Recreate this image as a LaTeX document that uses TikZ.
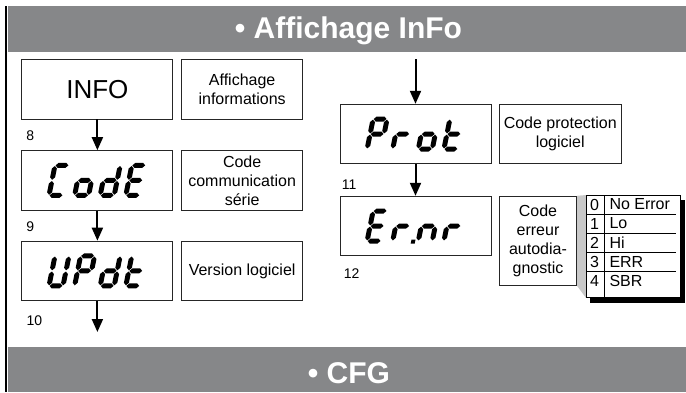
\documentclass[tikz,border=0pt]{standalone}
\usepackage{fontspec}
\setmainfont{Liberation Sans}
\definecolor{bargray}{RGB}{134,135,137}
\definecolor{wedgegray}{RGB}{201,201,201}
\usetikzlibrary{positioning,calc,arrows.meta,backgrounds}

% segments of the lcd digits (horizontal / vertical)
\newcommand\hseg[3]{\fill (#1+0.6,#3) -- (#1+3.1,#3+2.5) -- (#2-3.1,#3+2.5) -- (#2-0.6,#3) -- (#2-3.1,#3-2.5) -- (#1+3.1,#3-2.5) -- cycle;}
\newcommand\vseg[3]{\fill (#1,#2+0.6) -- (#1+2.5,#2+3.1) -- (#1+2.5,#3-3.1) -- (#1,#3-0.6) -- (#1-2.5,#3-3.1) -- (#1-2.5,#2+3.1) -- cycle;}
\newcommand\lcda{\hseg{0}{14}{30}}
\newcommand\lcdb{\vseg{14}{15}{30}}
\newcommand\lcdc{\vseg{14}{0}{15}}
\newcommand\lcdd{\hseg{0}{14}{0}}
\newcommand\lcde{\vseg{0}{0}{15}}
\newcommand\lcdf{\vseg{0}{15}{30}}
\newcommand\lcdg{\hseg{0}{14}{15}}
\newcommand\lcdp{\fill (18.5,-2.5) rectangle (22.5,1.5);}

\tikzset{
  pics/lcd/.style={code={
    \begin{scope}[xslant=0.2]
    \foreach \s in #1 {\csname lcd\s\endcsname}
    \end{scope}
  }}
}

\begin{document}
\begin{tikzpicture}[x=1pt, y=1pt,
    dispnode/.style={draw=black!85, line width=0.9pt, minimum width=151pt, minimum height=59.5pt, inner sep=0pt, font=\fontsize{26}{30}\selectfont},
    descnode/.style={draw=black!85, line width=0.9pt, minimum width=121.5pt, minimum height=59.5pt, inner sep=0pt, align=center, font=\fontsize{16}{19}\selectfont},
    numnode/.style={inner sep=0pt, font=\fontsize{14}{16}\selectfont},
    barnode/.style={inner sep=0pt, text=white, font=\fontsize{30}{36}\selectfont\bfseries},
    tabnode/.style={draw, fill=white, line width=0.9pt, minimum width=94pt, minimum height=102pt, inner sep=0pt},
    cellnode/.style={inner sep=0pt, font=\fontsize{16}{19}\selectfont},
    flow/.style={line width=2pt, -{Triangle[width=11pt,length=13pt]}}
    ]
    \useasboundingbox (0,0) rectangle (686,-392);

    % header and footer
    \fill[bargray] (8,-6) rectangle (686,-52);
    \fill[bargray] (8,-347) rectangle (686,-392);
    \draw[line width=2.5pt] (6.2,-6) -- (6.2,-392);
    \node[barnode, anchor=base] (head) at (348.5,-38.5) {\textbullet\ Affichage InFo};
    \node[barnode, anchor=base] (foot) at (349,-383.3) {\textbullet\ CFG};

    % left column
    \node[dispnode] (info) at (97.4,-89.2) {INFO};
    \node[descnode, right=7.6pt of info] (infotxt) {Affichage\\informations};
    \node[dispnode] (code) at (97.4,-180.4) {};
    \node[descnode, right=7.6pt of code] (codetxt) {Code\\communication\\série};
    \node[dispnode] (updt) at (97.4,-270.9) {};
    \node[descnode, right=7.6pt of updt] (updttxt) {Version logiciel};

    % right column
    \node[dispnode] (prot) at (415.5,-134) {};
    \node[descnode, right=7.6pt of prot] (prottxt) {Code protection\\logiciel};
    \node[dispnode] (ernr) at (415.5,-226) {};
    \node[descnode, minimum width=77pt, minimum height=89pt, below right=0pt and 7.6pt of ernr.north east] (ernrtxt) {Code\\erreur\\autodia-\\gnostic};

    % lcd words
    \foreach \segs [count=\k from 0] in {{a,d,e,f},{c,d,e,g},{b,c,d,e,g},{a,d,e,f,g}}
      \pic at ($(code.center)+(-48.4+25.6*\k,-15)$) {lcd=\segs};
    \foreach \segs [count=\k from 0] in {{b,c,d,e,f},{a,b,e,f,g},{b,c,d,e,g},{d,e,f,g}}
      \pic at ($(updt.center)+(-48.4+25.6*\k,-15)$) {lcd=\segs};
    \foreach \segs [count=\k from 0] in {{a,b,e,f,g},{e,g},{c,d,e,g},{d,e,f,g}}
      \pic at ($(prot.center)+(-48.4+25.6*\k,-15)$) {lcd=\segs};
    \foreach \segs [count=\k from 0] in {{a,d,e,f,g},{e,g,p},{c,e,g},{e,g}}
      \pic at ($(ernr.center)+(-48.4+25.6*\k,-15)$) {lcd=\segs};

    % step numbers
    \node[numnode, below right=11pt and 4.7pt of info.south west] (n8) {8};
    \node[numnode, below right=10.7pt and 4.7pt of code.south west] (n9) {9};
    \node[numnode, below right=14.3pt and 5pt of updt.south west] (n10) {10};
    \node[numnode, below right=15.3pt and 2pt of prot.south west] (n11) {11};
    \node[numnode, below right=12.3pt and 4pt of ernr.south west] (n12) {12};

    % error codes
    \node[tabnode, anchor=north west] (errtab) at (586,-195) {};
    \begin{scope}[on background layer]
    \fill[wedgegray] (ernrtxt.north east) -- (errtab.north west) -- (errtab.south west) -- (ernrtxt.south east) -- cycle;
    \fill[black] ($(errtab.south west)+(4,-5)$) rectangle ($(errtab.north east)+(4,-5)$);
    \end{scope}
    \draw[line width=0.9pt] ($(errtab.north west)+(18.3,0)$) -- ($(errtab.south west)+(18.3,0)$);
    \foreach \i in {1,...,4}
      \draw[line width=0.7pt] ($(errtab.north west)+(1,-19*\i)$) -- ++(89,0);
    \foreach \n/\t [count=\i from 0] in {0/No Error,1/Lo,2/Hi,3/ERR,4/SBR} {
      \node[cellnode] (k\i) at ($(errtab.north west)+(8.5,-9.5-19*\i)$) {\n};
      \node[cellnode, anchor=west] (v\i) at ($(errtab.north west)+(23.3,-9.5-19*\i)$) {\t};
    }

    % the flow
    \coordinate (entry) at (415.5,-59);
    \coordinate (exit) at (97.4,-332);
    \draw[flow] (info) -- (code);
    \draw[flow] (code) -- (updt);
    \draw[flow] (updt) -- (exit);
    \draw[flow] (entry) -- (prot);
    \draw[flow] (prot) -- (ernr);
\end{tikzpicture}
\end{document}
